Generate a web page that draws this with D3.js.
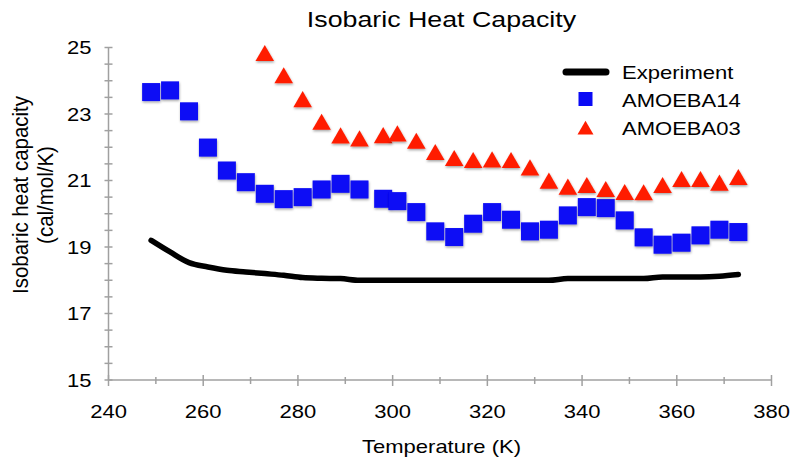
<!DOCTYPE html>
<html>
<head>
<meta charset="utf-8">
<script src="https://cdn.jsdelivr.net/npm/d3@7"></script>
<style>
  body { margin: 0; background: #fff; }
  svg text { font-family: "Liberation Sans", Arial, sans-serif; fill: #000; }
</style>
</head>
<body>
<svg id="chart" width="800" height="466"></svg>
<script>
// temperatures (K) of the simulations
const tempsA14 = [249, 253, 257, 261, 265, 269, 273, 277, 281, 285, 289, 293, 298, 301, 305, 309,
    313, 317, 321, 325, 329, 333, 337, 341, 345, 349, 353, 357, 361, 365, 369, 373];
const amoeba14 = [23.66, 23.71, 23.08, 21.99, 21.3, 20.95, 20.6, 20.44, 20.5, 20.73, 20.9, 20.73, 20.45, 20.38, 20.05, 19.47,
    19.3, 19.7, 20.05, 19.82, 19.47, 19.52, 19.95, 20.2, 20.17, 19.8, 19.29, 19.07, 19.13, 19.35, 19.52, 19.45];
const experiment = [19.2, 18.85, 18.53, 18.4, 18.3, 18.25, 18.2, 18.15, 18.08, 18.06, 18.05, 18.0, 18.0, 18.0, 18.0, 18.0,
    18.0, 18.0, 18.0, 18.0, 18.0, 18.0, 18.05, 18.05, 18.05, 18.05, 18.05, 18.1, 18.1, 18.1, 18.12, 18.17];

const tempsA03 = [273, 277, 281, 285, 289, 293, 298, 301, 305, 309, 313, 317, 321,
    325, 329, 333, 337, 341, 345, 349, 353, 357, 361, 365, 369, 373];
const amoeba03 = [24.8, 24.13, 23.41, 22.73, 22.32, 22.23, 22.33, 22.38, 22.16, 21.82, 21.64, 21.58, 21.6,
    21.58, 21.36, 20.96, 20.78, 20.83, 20.71, 20.62, 20.61, 20.83, 21.01, 21.01, 20.9, 21.07];

const xTickLabels = [240, 260, 280, 300, 320, 340, 360, 380];
const yTickLabels = [15, 17, 19, 21, 23, 25];
const legendNames = ['Experiment', 'AMOEBA14', 'AMOEBA03'];

const blue = '#0a0af5';
const red = '#ff1e00';
const axisGray = '#a0a0a0';
// the original picture is a little wider than tall, text included
const stretch = 1.19;

const margin = { top: 47.5, right: 28.5, bottom: 86, left: 108.5 };
const width = 800 - margin.left - margin.right;
const height = 466 - margin.top - margin.bottom;

const svg = d3.select('#chart');

function addText(parent, x, y, str, size, anchor, rotate, sx) {
    return parent.append('text')
        .attr('transform', `translate(${x},${y}) scale(${sx || stretch},1)` + (rotate ? ` rotate(${rotate})` : ''))
        .attr('text-anchor', anchor || 'start')
        .style('font-size', size + 'px')
        .text(str);
}

const defs = svg.append('defs');
const shadow = defs.append('filter').attr('id', 'shadow')
    .attr('x', '-30%').attr('y', '-30%').attr('width', '160%').attr('height', '160%');
shadow.append('feDropShadow')
    .attr('dx', 0.5).attr('dy', 1.5).attr('stdDeviation', 1)
    .attr('flood-color', '#000').attr('flood-opacity', 0.35);

const g = svg.append('g').attr('transform', `translate(${margin.left},${margin.top})`);

const x = d3.scaleLinear().domain([240, 380]).range([0, width]);
const y = d3.scaleLinear().domain([15, 25]).range([height, 0]);

// axes lines and ticks (ticks cross the axis)
const axes = g.append('g').attr('stroke', axisGray).attr('stroke-width', 1.5);
axes.append('line').attr('x1', 0).attr('x2', 0).attr('y1', y(25)).attr('y2', y(15));
axes.append('line').attr('x1', 0).attr('x2', x(380)).attr('y1', y(15)).attr('y2', y(15));

d3.range(15, 25.01, 0.5).forEach(v => {
    axes.append('line').attr('x1', -4).attr('x2', 4).attr('y1', y(v)).attr('y2', y(v));
});
d3.range(240, 380.1, 10).forEach(v => {
    const major = v % 20 === 0;
    axes.append('line').attr('x1', x(v)).attr('x2', x(v))
        .attr('y1', y(15) - (major ? 5 : 3)).attr('y2', y(15) + (major ? 6 : 4));
});

// tick labels
yTickLabels.forEach(d => addText(g, -17, y(d) + 6.5, d, 18.5, 'end'));
xTickLabels.forEach(d => addText(g, x(d), height + 38, d, 18.5, 'middle'));

// titles
addText(svg, 441.5, 453, 'Temperature (K)', 18.5, 'middle');
addText(svg, 441.5, 26.5, 'Isobaric Heat Capacity', 22.5, 'middle');

const yTitle = addText(svg, 28, 195, null, 20.5, 'middle', -90, 1.05);
yTitle.append('tspan').attr('x', 0).attr('dy', 0).text('Isobaric heat capacity');
yTitle.append('tspan').attr('x', 0).attr('dy', 24).text('(cal/mol/K)');

// experiment line
const line = d3.line()
    .x((d, i) => x(tempsA14[i]))
    .y(d => y(d))
    .curve(d3.curveMonotoneX);

g.append('path')
    .datum(experiment)
    .attr('d', line)
    .attr('fill', 'none')
    .attr('stroke', '#000')
    .attr('stroke-width', 5.5)
    .attr('stroke-linecap', 'round');

// AMOEBA14 squares
const sq = 18;
g.selectAll('.a14').data(amoeba14).enter().append('rect')
    .attr('class', 'a14')
    .attr('x', (d, i) => x(tempsA14[i]) - sq / 2)
    .attr('y', d => y(d) - sq / 2)
    .attr('width', sq).attr('height', sq)
    .attr('fill', blue)
    .attr('filter', 'url(#shadow)');

// AMOEBA03 triangles
const tri = d3.symbol().type(d3.symbolTriangle).size(150);
g.selectAll('.a03').data(amoeba03).enter().append('path')
    .attr('class', 'a03')
    .attr('d', tri)
    .attr('transform', (d, i) => `translate(${x(tempsA03[i])},${y(d) + 1.5})`)
    .attr('fill', red)
    .attr('filter', 'url(#shadow)');

// legend
const legend = svg.append('g');
legend.append('line')
    .attr('x1', 566).attr('x2', 606).attr('y1', 72).attr('y2', 72)
    .attr('stroke', '#000').attr('stroke-width', 7).attr('stroke-linecap', 'round');
legend.append('rect')
    .attr('x', 578.5).attr('y', 92).attr('width', 14).attr('height', 14)
    .attr('fill', blue);
legend.append('path')
    .attr('d', d3.symbol().type(d3.symbolTriangle).size(110))
    .attr('transform', 'translate(585.5,130)')
    .attr('fill', red);
legendNames.forEach((d, i) => addText(legend, 622, 78.5 + i * 28.3, d, 18.5));
</script>
</body>
</html>
